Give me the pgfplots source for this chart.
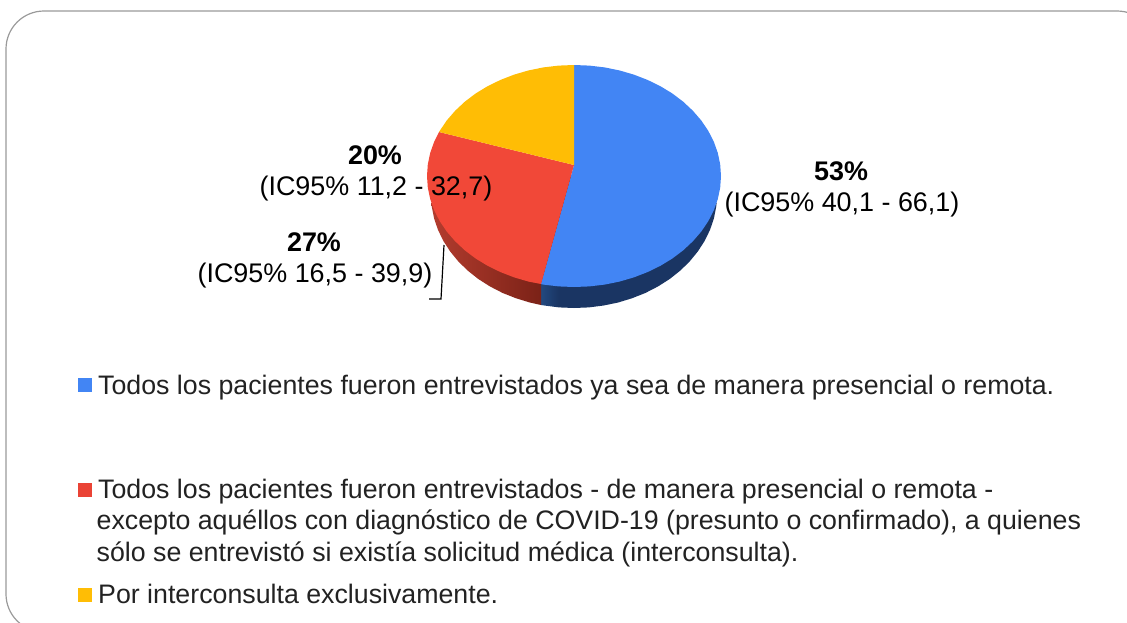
\documentclass[border=0pt]{standalone}
\usepackage{fontspec}
\setmainfont{Liberation Sans}
\usepackage{pgfplots}
\pgfplotsset{compat=1.18}
\definecolor{cblue}{HTML}{4285F4}
\definecolor{cred}{HTML}{F14838}
\definecolor{credl}{HTML}{EA4335}
\definecolor{cyel}{HTML}{FFBD05}
\definecolor{bside}{HTML}{1A3563}
\definecolor{bsidel}{HTML}{22497F}
\definecolor{rsidel}{HTML}{B33C2E}
\definecolor{rsider}{HTML}{6A1A10}
\definecolor{frame}{HTML}{9A9A9A}
\definecolor{legtxt}{HTML}{222222}
\pgfdeclarehorizontalshading{bsideshade}{100bp}{color(0bp)=(bsidel); color(25bp)=(bsidel); color(30bp)=(bside); color(100bp)=(bside)}
\newcommand{\lab}{\fontsize{26.9}{32}\selectfont}
\newcommand{\leg}{\fontsize{26.75}{32}\selectfont}
\begin{document}
\begin{tikzpicture}
\begin{axis}[
  name=main,
  width=1127pt, height=622pt, scale only axis,
  xmin=0, xmax=1127, ymin=0, ymax=622, y dir=reverse,
  axis lines=none, no markers, clip=true,
  every axis plot/.append style={draw=none}
]
% frame
\addplot[draw=frame, line width=1.2pt, rounded corners=38pt, fill=none] coordinates {(500,11)(1155,11)(1155,632)(6,632)(6,11)(500,11)};
% blue side
\addplot[shading=bsideshade] coordinates {(574,176)(716.6,203)(716.2,206.8)(713.9,218.5)(710,229.9)(704.6,241)(697.8,251.5)(689.7,261.4)(680.3,270.6)(669.7,279)(658.1,286.4)(645.5,292.9)(632.2,298.2)(618.2,302.5)(603.7,305.5)(588.9,307.4)(574,308)(559.1,307.4)(544.3,305.5)(541,305)(541,284)};
% red side
\addplot[left color=rsidel, right color=rsider] coordinates {(574,176)(431.4,203)(431.8,206.8)(434.1,218.5)(438,229.9)(443.4,241)(450.2,251.5)(458.3,261.4)(467.7,270.6)(478.3,279)(489.9,286.4)(502.5,292.9)(515.8,298.2)(529.8,302.5)(541,305)(541,284)};
% blue face, 53%
\addplot[fill=cblue] coordinates {(574,165)(574,65)(589.4,65.6)(604.6,67.4)(619.4,70.4)(633.8,74.6)(647.5,79.9)(660.4,86.2)(672.4,93.5)(683.2,101.7)(692.9,110.8)(701.3,120.5)(708.3,130.9)(713.8,141.7)(717.8,152.9)(720.2,164.4)(721,176)(720.2,187.6)(717.8,199.1)(713.8,210.3)(708.3,221.1)(701.3,231.5)(692.9,241.2)(683.2,250.3)(672.4,258.5)(660.4,265.8)(647.5,272.1)(633.8,277.4)(619.4,281.6)(604.6,284.6)(589.4,286.4)(574,287)(558.6,286.4)(543.4,284.6)(541,284)};
% red face, 27%
\addplot[fill=cred] coordinates {(574,165)(541,284)(528.6,281.6)(514.2,277.4)(500.5,272.1)(487.6,265.8)(475.6,258.5)(464.8,250.3)(455.1,241.2)(446.7,231.5)(439.7,221.1)(434.2,210.3)(430.2,199.1)(427.8,187.6)(427,176)(427.8,164.4)(430.2,152.9)(434.2,141.7)(439,132)};
% yellow face, 20%
\addplot[fill=cyel] coordinates {(574,165)(439,132)(439.7,130.9)(446.7,120.5)(455.1,110.8)(464.8,101.7)(475.6,93.5)(487.6,86.2)(500.5,79.9)(514.2,74.6)(528.6,70.4)(543.4,67.4)(558.6,65.6)(574,65)};
% leader
\addplot[draw=black, line width=1.2pt, fill=none] coordinates {(444,245)(441,299)(429,299)};
% legend swatches
\addplot[fill=cblue] coordinates {(78,378)(92,378)(92,392)(78,392)};
\addplot[fill=credl] coordinates {(78,483)(92,483)(92,497)(78,497)};
\addplot[fill=cyel] coordinates {(78,588)(92,588)(92,602)(78,602)};
% data labels
\node[anchor=base,inner sep=0pt] at (axis cs:841,180) {\lab\textbf{53\%}};
\node[anchor=base,inner sep=0pt] at (axis cs:842,211) {\lab(IC95\% 40,1 - 66,1)};
\node[anchor=base,inner sep=0pt] at (axis cs:375,164) {\lab\textbf{20\%}};
\node[anchor=base,inner sep=0pt] at (axis cs:376,195) {\lab(IC95\% 11,2 - 32,7)};
\node[anchor=base,inner sep=0pt] at (axis cs:314,251) {\lab\textbf{27\%}};
\node[anchor=base,inner sep=0pt] at (axis cs:315,282) {\lab(IC95\% 16,5 - 39,9)};
% legend text
\node[anchor=base west,inner sep=0pt,text=legtxt] at (axis cs:98,394) {\leg Todos los pacientes fueron entrevistados ya sea de manera presencial o remota.};
\node[anchor=base west,inner sep=0pt,text=legtxt] at (axis cs:98,498) {\leg Todos los pacientes fueron entrevistados - de manera presencial o remota -};
\node[anchor=base west,inner sep=0pt,text=legtxt] at (axis cs:96.5,529) {\leg excepto aquéllos con diagnóstico de COVID-19 (presunto o confirmado), a quienes};
\node[anchor=base west,inner sep=0pt,text=legtxt] at (axis cs:96.5,561) {\leg sólo se entrevistó si existía solicitud médica (interconsulta).};
\node[anchor=base west,inner sep=0pt,text=legtxt] at (axis cs:98,603) {\leg Por interconsulta exclusivamente.};
\end{axis}
\pgfresetboundingbox
\path[use as bounding box] (main.south west) rectangle (main.north east);
\end{tikzpicture}
\end{document}
